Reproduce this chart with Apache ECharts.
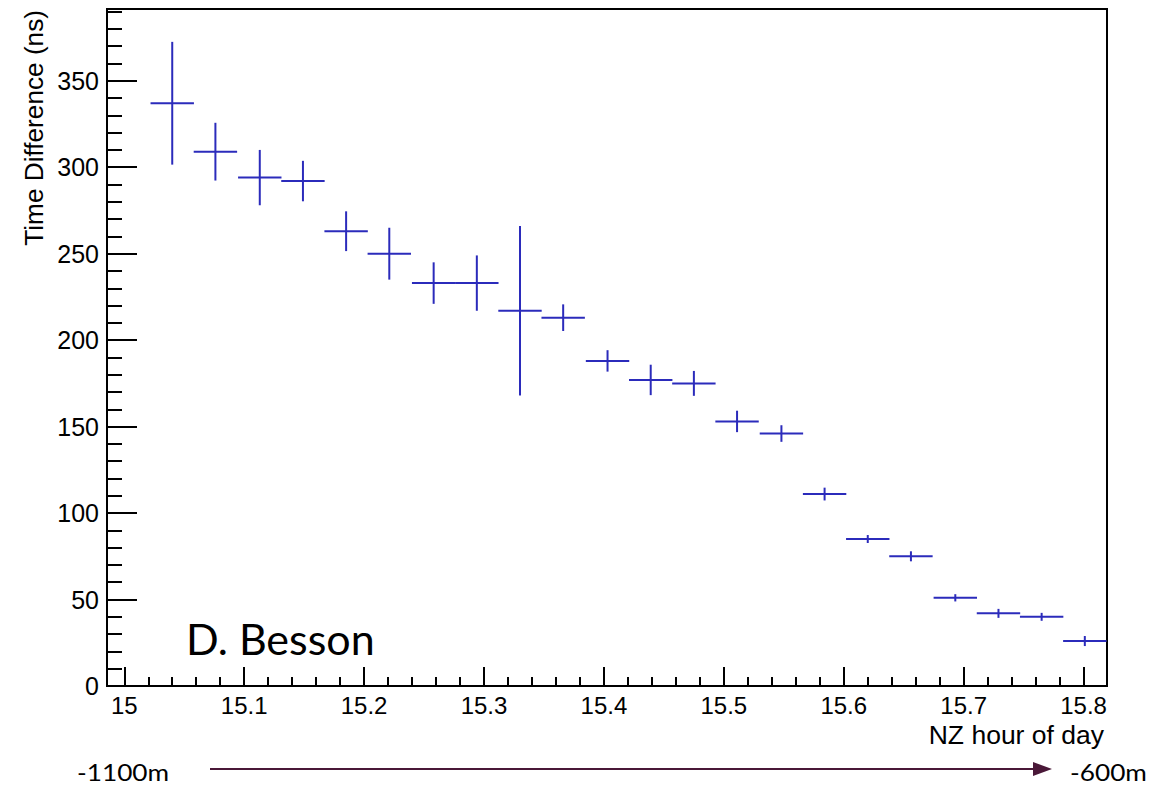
<!DOCTYPE html>
<html>
<head>
<meta charset="utf-8">
<script src="https://cdn.jsdelivr.net/npm/echarts@6/dist/echarts.min.js"></script>
<style>
html,body{margin:0;padding:0;background:#fff;}
#chart{width:1176px;height:786px;}
</style>
</head>
<body>
<div id="chart"></div>
<script>
// ---- data ----
const binCenters = [15.040, 15.076, 15.113, 15.149, 15.185, 15.221, 15.258, 15.294, 15.330, 15.366, 15.403, 15.439, 15.475, 15.511, 15.548, 15.584, 15.620, 15.656, 15.693, 15.729, 15.765, 15.801];
const timeDiff   = [337, 309, 294, 292, 263, 250, 233, 233, 217, 213, 188, 177, 175, 153, 146, 111, 85, 75, 51, 42, 40, 26];
const timeErr    = [35.5, 16.7, 16, 11.7, 11.5, 15, 12, 16, 49, 7.7, 6.2, 8.8, 7.2, 6.2, 4.8, 3.7, 2.3, 2.9, 2.1, 2.6, 2.3, 2.9];
const binHalfWidth = 0.0181;

const xMajorTicks = [15.0, 15.1, 15.2, 15.3, 15.4, 15.5, 15.6, 15.7, 15.8];
const xTickLabels = ['15', '15.1', '15.2', '15.3', '15.4', '15.5', '15.6', '15.7', '15.8'];
const yMajorTicks = [0, 50, 100, 150, 200, 250, 300, 350];
const yTickLabels = ['0', '50', '100', '150', '200', '250', '300', '350'];

const X_MIN = 14.9856, X_MAX = 15.8195;
const Y_MIN = 0, Y_MAX = 391.5;

const xMinorTicks = [];
for (let i = 0; i <= 42; i++) {
  const v = Math.round((14.98 + i * 0.02) * 1000) / 1000;
  if (v > X_MIN && v < X_MAX && Math.round(v * 1000) % 100 !== 0) xMinorTicks.push(v);
}
const yMinorTicks = [];
for (let v = 10; v < Y_MAX; v += 10) if (v % 50 !== 0) yMinorTicks.push(v);

const seriesData = binCenters.map((c, i) => [c, timeDiff[i], timeErr[i], binHalfWidth]);

const BLUE = '#2b2bbb';
const FONT = '"Liberation Sans", Arial, Helvetica, sans-serif';
const HUM = 'Lato, "Open Sans", sans-serif';

const chart = echarts.init(document.getElementById('chart'), null, {renderer: 'svg'});

const option = {
  animation: false,
  backgroundColor: '#fff',
  grid: {left: 107, right: 69, top: 9, bottom: 100, show: true, borderColor: '#000', borderWidth: 2, backgroundColor: 'transparent'},
  xAxis: [
    {
      type: 'value', min: X_MIN, max: X_MAX, position: 'bottom',
      axisLine: {show: false},
      splitLine: {show: false},
      axisTick: {show: true, inside: true, length: 19, customValues: xMajorTicks, lineStyle: {color: '#000', width: 2}},
      axisLabel: {
        show: true, customValues: xMajorTicks, margin: 7, color: '#000', fontSize: 24, fontFamily: FONT,
        formatter: function (v) { const i = xMajorTicks.findIndex(t => Math.abs(t - v) < 1e-6); return i >= 0 ? xTickLabels[i] : ''; }
      }
    },
    {
      type: 'value', min: X_MIN, max: X_MAX, position: 'bottom', offset: 0,
      axisLine: {show: false}, splitLine: {show: false},
      axisTick: {show: true, inside: true, length: 9, customValues: xMinorTicks, lineStyle: {color: '#000', width: 2}},
      axisLabel: {show: false}
    }
  ],
  yAxis: [
    {
      type: 'value', min: Y_MIN, max: Y_MAX, position: 'left',
      axisLine: {show: false}, splitLine: {show: false},
      axisTick: {show: true, inside: true, length: 30, customValues: yMajorTicks, lineStyle: {color: '#000', width: 2}},
      axisLabel: {
        show: true, customValues: yMajorTicks, margin: 8, color: '#000', fontSize: 25, fontFamily: FONT,
        formatter: function (v) { const i = yMajorTicks.findIndex(t => Math.abs(t - v) < 1e-6); return i >= 0 ? yTickLabels[i] : ''; }
      }
    },
    {
      type: 'value', min: Y_MIN, max: Y_MAX, position: 'left', offset: 0,
      axisLine: {show: false}, splitLine: {show: false},
      axisTick: {show: true, inside: true, length: 15, customValues: yMinorTicks, lineStyle: {color: '#000', width: 2}},
      axisLabel: {show: false}
    }
  ],
  series: [{
    type: 'custom',
    xAxisIndex: 0, yAxisIndex: 0,
    clip: true,
    data: seriesData,
    renderItem: function (params, api) {
      const x = api.value(0), y = api.value(1), e = api.value(2), hw = api.value(3);
      const pL = api.coord([x - hw, y]), pR = api.coord([x + hw, y]);
      const pT = api.coord([x, y + e]), pB = api.coord([x, y - e]);
      return {
        type: 'group',
        children: [
          {type: 'line', shape: {x1: pL[0], y1: pL[1], x2: pR[0], y2: pR[1]}, style: {stroke: BLUE, lineWidth: 2}},
          {type: 'line', shape: {x1: pT[0], y1: pT[1], x2: pB[0], y2: pB[1]}, style: {stroke: BLUE, lineWidth: 2}}
        ]
      };
    }
  }],
  graphic: [
    {type: 'text', x: 34, y: 10, rotation: Math.PI / 2,
     style: {text: 'Time Difference (ns)', align: 'right', verticalAlign: 'middle', fill: '#000', fontSize: 26.2, fontFamily: FONT}},
    {type: 'text', x: 1104, y: 735,
     style: {text: 'NZ hour of day', align: 'right', verticalAlign: 'middle', fill: '#000', fontSize: 26.5, fontFamily: FONT}},
    {type: 'text', x: 186, y: 638,
     style: {text: 'D. Besson', align: 'left', verticalAlign: 'middle', fill: '#000', fontSize: 43, fontFamily: HUM}},
    {type: 'text', x: 77, y: 772, scaleX: 1.14,
     style: {text: '-1100m', align: 'left', verticalAlign: 'middle', fill: '#000', fontSize: 23, fontFamily: HUM}},
    {type: 'text', x: 1070, y: 772, scaleX: 1.14,
     style: {text: '-600m', align: 'left', verticalAlign: 'middle', fill: '#000', fontSize: 23, fontFamily: HUM}},
    {type: 'line', shape: {x1: 210, y1: 769, x2: 1036, y2: 769}, style: {stroke: '#4a1838', lineWidth: 2}},
    {type: 'polygon', shape: {points: [[1033, 762], [1052, 769], [1033, 776]]}, style: {fill: '#4a1838'}}
  ]
};
chart.setOption(option);
</script>
</body>
</html>
